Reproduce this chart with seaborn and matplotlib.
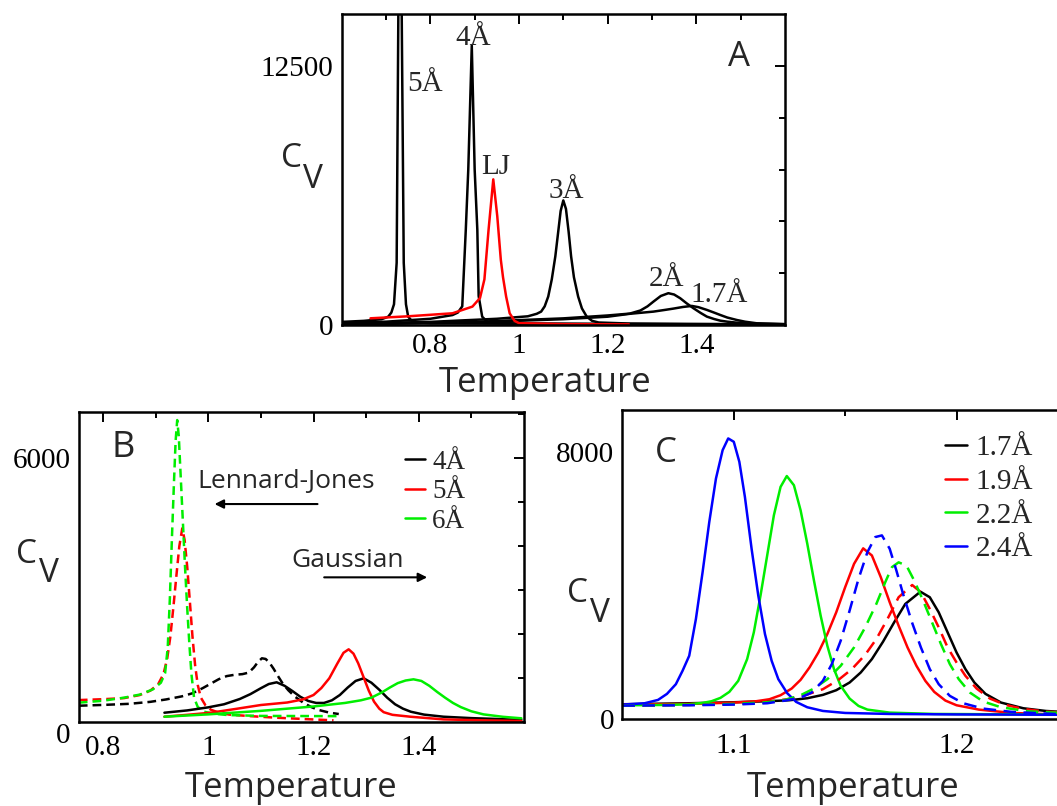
import matplotlib
matplotlib.use("Agg")
import matplotlib.pyplot as plt
import matplotlib.transforms as mtransforms
import numpy as np
import pandas as pd
import seaborn as sns

# ---------------- data ----------------
# Panel A
A_5_T = [0.60, 0.65, 0.69, 0.705, 0.712, 0.718, 0.724, 0.7278, 0.7316, 0.7354, 0.740, 0.745, 0.750, 0.760, 0.80, 1.00, 1.30, 1.60]
A_5_C = [150, 200, 280, 400, 600, 1000, 3000, 15000, 30000, 15000, 3000, 1000, 400, 150, 80, 60, 40, 25]
A_4_T = [0.60, 0.70, 0.80, 0.85, 0.862, 0.872, 0.880, 0.8856, 0.8935, 0.900, 0.906, 0.909, 0.917, 0.93, 1.00, 1.30, 1.60]
A_4_C = [100, 160, 300, 480, 600, 900, 4600, 7500, 13480, 7500, 4600, 1400, 400, 120, 70, 40, 25]
A_LJ_T = [0.665, 0.75, 0.85, 0.895, 0.912, 0.922, 0.9314, 0.942, 0.951, 0.959, 0.964, 0.971, 0.979, 0.99, 1.00, 1.10, 1.248]
A_LJ_C = [323, 420, 565, 888, 1300, 2200, 4600, 7025, 5250, 3150, 2300, 1372, 565, 200, 90, 40, 30]
A_3_T = [0.60, 0.80, 0.95, 1.02, 1.04, 1.05, 1.058, 1.066, 1.074, 1.082, 1.088, 1.094, 1.100, 1.106, 1.112, 1.1176, 1.124, 1.1335, 1.142, 1.153, 1.165, 1.18, 1.25, 1.60]
A_3_C = [60, 150, 300, 420, 540, 646, 900, 1372, 2200, 3310, 4400, 5500, 6008, 5600, 4500, 3310, 2300, 1372, 800, 400, 200, 120, 70, 30]
A_2_T = [0.60, 0.90, 1.10, 1.20, 1.25, 1.274, 1.29, 1.3035, 1.32, 1.337, 1.35, 1.3637, 1.378, 1.3937, 1.41, 1.424, 1.44, 1.454, 1.47, 1.4914, 1.55, 1.60]
A_2_C = [30, 150, 320, 460, 550, 700, 900, 1130, 1400, 1534, 1470, 1292, 1050, 808, 580, 404, 290, 210, 160, 113, 60, 40]
A_17_T = [0.60, 0.90, 1.10, 1.20, 1.25, 1.3035, 1.33, 1.3485, 1.37, 1.39, 1.405, 1.424, 1.44, 1.454, 1.47, 1.4914, 1.51, 1.537, 1.60]
A_17_C = [20, 130, 280, 400, 540, 646, 730, 791, 870, 920, 860, 727, 600, 485, 360, 242, 160, 81, 40]
A_curve_labels = ["5Å", "4Å", "LJ", "3Å", "2Å", "1.7Å"]
A_label_T = [0.748, 0.8558, 0.9156, 1.066, 1.292, 1.3862]
A_label_C = [11303, 13484, 7268, 6138, 1890, 1130]
A_xticks = [0.8, 1.0, 1.2, 1.4]
A_xticklabels = ["0.8", "1", "1.2", "1.4"]
A_yticks = [0, 12500]
A_yticklabels = ["0", "12500"]

# Panel B  (dashed = Lennard-Jones, solid = Gaussian)
B_LJ4_T = [0.754, 0.80, 0.85, 0.89, 0.92, 0.95, 0.97, 0.99, 1.005, 1.02, 1.035, 1.05, 1.065, 1.077, 1.087, 1.095, 1.102, 1.109, 1.116, 1.124, 1.132, 1.141, 1.152, 1.165, 1.18, 1.195, 1.21, 1.23, 1.248]
B_LJ4_C = [377, 395, 420, 465, 520, 590, 660, 780, 880, 980, 1050, 1080, 1095, 1130, 1250, 1380, 1455, 1440, 1360, 1220, 1060, 890, 730, 580, 450, 350, 280, 220, 188]
B_LJ5_T = [0.754, 0.80, 0.84, 0.87, 0.89, 0.905, 0.915, 0.922, 0.928, 0.934, 0.940, 0.945, 0.9506, 0.955, 0.960, 0.965, 0.970, 0.975, 0.980, 0.986, 0.995, 1.005, 1.02, 1.04, 1.08, 1.13, 1.19, 1.238]
B_LJ5_C = [505, 525, 550, 620, 720, 870, 1100, 1450, 1950, 2650, 3400, 4000, 4409, 4150, 3538, 2750, 1950, 1300, 850, 560, 380, 286, 220, 175, 140, 104, 70, 45]
B_LJ6_T = [0.754, 0.80, 0.84, 0.87, 0.895, 0.910, 0.918, 0.923, 0.927, 0.931, 0.935, 0.938, 0.941, 0.944, 0.948, 0.952, 0.956, 0.960, 0.964, 0.968, 0.973, 0.980, 0.992, 1.01, 1.037, 1.10, 1.2447]
B_LJ6_C = [446, 490, 560, 630, 750, 900, 1120, 1700, 2800, 4200, 5500, 6400, 6870, 6500, 5500, 4500, 3500, 2600, 1800, 1100, 560, 350, 241, 195, 165, 145, 140]
B_G4_T = [0.9167, 0.96, 1.00, 1.03, 1.06, 1.08, 1.10, 1.115, 1.130, 1.145, 1.16, 1.175, 1.19, 1.205, 1.22, 1.235, 1.25, 1.265, 1.28, 1.2954, 1.31, 1.325, 1.34, 1.355, 1.37, 1.385, 1.41, 1.447, 1.50, 1.55, 1.595]
B_G4_C = [218, 270, 340, 410, 530, 640, 775, 870, 909, 830, 710, 580, 485, 440, 440, 500, 620, 790, 940, 1000, 900, 740, 560, 410, 310, 240, 175, 127, 95, 75, 55]
B_G5_T = [0.9167, 0.96, 1.005, 1.05, 1.10, 1.15, 1.18, 1.20, 1.215, 1.23, 1.245, 1.257, 1.2668, 1.276, 1.285, 1.295, 1.305, 1.315, 1.325, 1.3333, 1.35, 1.384, 1.447, 1.52, 1.595]
B_G5_C = [127, 170, 218, 300, 393, 450, 520, 620, 780, 1000, 1330, 1580, 1659, 1560, 1340, 1030, 720, 470, 310, 230, 170, 127, 66, 45, 30]
B_G6_T = [0.9167, 1.0, 1.1, 1.2, 1.26, 1.29, 1.31, 1.33, 1.345, 1.36, 1.375, 1.39, 1.405, 1.42, 1.435, 1.45, 1.465, 1.48, 1.50, 1.523, 1.56, 1.595]
B_G6_C = [127, 180, 260, 360, 440, 500, 560, 680, 790, 890, 950, 977, 940, 830, 690, 560, 440, 345, 250, 180, 125, 91]
B_legend = ["4Å", "5Å", "6Å"]
B_xticks = [0.8, 1.0, 1.2, 1.4]
B_xticklabels = ["0.8", "1", "1.2", "1.4"]
B_yticks = [0, 6000]
B_yticklabels = ["0", "6000"]

# Panel C  (solid = Gaussian, dashed = Lennard-Jones)
C_G17_T = [1.050, 1.080, 1.100, 1.115, 1.125, 1.133, 1.140, 1.146, 1.152, 1.157, 1.162, 1.167, 1.172, 1.177, 1.1838, 1.188, 1.192, 1.196, 1.200, 1.204, 1.208, 1.213, 1.220, 1.230, 1.240, 1.250]
C_G17_C = [450, 480, 510, 540, 570, 630, 730, 870, 1100, 1400, 1800, 2320, 2900, 3450, 3816, 3650, 3200, 2600, 2000, 1500, 1100, 760, 500, 330, 250, 210]
C_G19_T = [1.050, 1.080, 1.100, 1.110, 1.116, 1.121, 1.126, 1.130, 1.134, 1.138, 1.142, 1.146, 1.150, 1.154, 1.1581, 1.162, 1.166, 1.170, 1.174, 1.178, 1.182, 1.186, 1.190, 1.195, 1.200, 1.210, 1.225, 1.250]
C_G19_C = [440, 460, 500, 540, 600, 720, 920, 1180, 1550, 2000, 2550, 3200, 3950, 4650, 5112, 4900, 4250, 3500, 2800, 2150, 1600, 1150, 820, 560, 420, 290, 190, 130]
C_G22_T = [1.050, 1.070, 1.080, 1.086, 1.090, 1.094, 1.098, 1.102, 1.106, 1.109, 1.112, 1.115, 1.118, 1.121, 1.1238, 1.127, 1.130, 1.133, 1.136, 1.139, 1.142, 1.145, 1.148, 1.152, 1.156, 1.160, 1.170, 1.190, 1.250]
C_G22_C = [420, 430, 450, 490, 540, 640, 820, 1150, 1800, 2600, 3700, 4900, 6100, 6950, 7275, 7000, 6250, 5250, 4150, 3100, 2200, 1500, 1000, 620, 400, 290, 200, 160, 140]
C_G24_T = [1.050, 1.060, 1.066, 1.070, 1.074, 1.077, 1.080, 1.083, 1.086, 1.089, 1.092, 1.095, 1.0975, 1.100, 1.1025, 1.105, 1.108, 1.111, 1.114, 1.117, 1.120, 1.124, 1.128, 1.133, 1.140, 1.150, 1.170, 1.200, 1.250]
C_G24_C = [440, 480, 580, 760, 1050, 1450, 1900, 3000, 4400, 5900, 7200, 8050, 8400, 8300, 7700, 6650, 5100, 3700, 2550, 1750, 1200, 780, 520, 360, 250, 190, 160, 145, 135]
C_L19_T = [1.050, 1.080, 1.100, 1.115, 1.125, 1.132, 1.140, 1.147, 1.153, 1.159, 1.164, 1.169, 1.174, 1.1801, 1.184, 1.188, 1.192, 1.196, 1.200, 1.204, 1.209, 1.215, 1.222, 1.230, 1.240, 1.250]
C_L19_C = [410, 430, 460, 520, 610, 720, 900, 1180, 1500, 1930, 2400, 3000, 3650, 4016, 3800, 3300, 2750, 2150, 1700, 1300, 920, 620, 430, 310, 230, 195]
C_L22_T = [1.050, 1.080, 1.100, 1.115, 1.123, 1.130, 1.136, 1.142, 1.148, 1.154, 1.159, 1.164, 1.168, 1.171, 1.174, 1.1775, 1.181, 1.185, 1.189, 1.193, 1.197, 1.201, 1.206, 1.212, 1.220, 1.232, 1.250]
C_L22_C = [410, 430, 460, 510, 580, 720, 920, 1200, 1600, 2150, 2750, 3450, 4100, 4550, 4694, 4600, 4150, 3550, 2900, 2250, 1650, 1200, 800, 530, 360, 240, 180]
C_L24_T = [1.050, 1.080, 1.100, 1.115, 1.123, 1.130, 1.135, 1.140, 1.144, 1.148, 1.152, 1.156, 1.160, 1.1635, 1.1665, 1.170, 1.173, 1.176, 1.180, 1.184, 1.188, 1.192, 1.197, 1.203, 1.212, 1.225, 1.250]
C_L24_C = [410, 420, 440, 480, 560, 650, 800, 1150, 1650, 2350, 3250, 4200, 5000, 5450, 5500, 5100, 4450, 3750, 2900, 2150, 1500, 1050, 700, 480, 320, 220, 140]
C_legend = ["1.7Å", "1.9Å", "2.2Å", "2.4Å"]
C_xticks = [1.1, 1.2]
C_xticklabels = ["1.1", "1.2"]
C_yticks = [0, 8000]
C_yticklabels = ["0", "8000"]

# ---------------- styling ----------------
sns.set_style("white")
plt.rcParams["font.family"] = ["Liberation Serif", "DejaVu Serif"]
SANS = ["Open Sans", "DejaVu Sans"]
BLACK, RED, GREEN, BLUE = "#000000", "#ff0000", "#00ee00", "#0000ff"
LW = 1.8

W, H = 1057, 806
fig = plt.figure(figsize=(W / 100, H / 100), dpi=100)


def px_rect(x0, y0, x1, y1):
    return [x0 / W, 1 - y1 / H, (x1 - x0) / W, (y1 - y0) / H]


def fxy(x, y):
    return x / W, 1 - y / H


axA = fig.add_axes(px_rect(341.7, 14, 784.9, 325))
axB = fig.add_axes(px_rect(78.8, 411.7, 524.0, 722.3))
axC = fig.add_axes(px_rect(622.4, 410, 1067.9, 719.3))


def draw(ax, T, C, color, ls="-", label=None):
    df = pd.DataFrame({"T": T, "Cv": C})
    sns.lineplot(data=df, x="T", y="Cv", ax=ax, color=color, lw=LW,
                 linestyle=ls, sort=False, estimator=None, label=label,
                 legend=False)


def style_axes(ax, xlim, ylim, xticks, xlabels, xminor, yticks, ylabels, yminor, xpad, ypad):
    ax.set_xlim(*xlim)
    ax.set_ylim(*ylim)
    ax.set_xticks(xticks, labels=xlabels)
    ax.set_yticks(yticks, labels=ylabels)
    ax.set_xticks(xminor, minor=True)
    ax.set_yticks(yminor, minor=True)
    ax.set_xlabel("")
    ax.set_ylabel("")
    ax.tick_params(which="both", direction="in", top=True, right=True,
                   width=1.4, color="black", labelsize=21, labelcolor="black")
    ax.tick_params(which="major", length=7)
    ax.tick_params(which="minor", length=4)
    ax.tick_params(axis="x", pad=xpad)
    ax.tick_params(axis="y", pad=ypad)
    for s in ax.spines.values():
        s.set_visible(True)
        s.set_linewidth(1.8)
        s.set_color("black")
    ax.set_facecolor("white")


# ---------------- Panel A ----------------
draw(axA, A_5_T, A_5_C, BLACK)
draw(axA, A_4_T, A_4_C, BLACK)
draw(axA, A_3_T, A_3_C, BLACK)
draw(axA, A_2_T, A_2_C, BLACK)
draw(axA, A_17_T, A_17_C, BLACK)
draw(axA, A_LJ_T, A_LJ_C, RED)
style_axes(axA, (0.6, 1.6), (0, 15000), A_xticks, A_xticklabels,
           np.arange(0.7, 1.6, 0.1), A_yticks, A_yticklabels,
           np.arange(2500, 15000, 2500), 6, 6)
for lab, t, c in zip(A_curve_labels, A_label_T, A_label_C):
    axA.text(t, c, lab, fontsize=21, ha="left", va="baseline")
axA.text(1.4727, 12515, "A", fontsize=25, family=SANS, ha="left", va="baseline")

# ---------------- Panel B ----------------
dashB = (0, (3.5, 2.0))
draw(axB, B_LJ4_T, B_LJ4_C, BLACK, dashB)
draw(axB, B_LJ5_T, B_LJ5_C, RED, dashB)
draw(axB, B_LJ6_T, B_LJ6_C, GREEN, dashB)
draw(axB, B_G4_T, B_G4_C, BLACK, "-", B_legend[0])
draw(axB, B_G5_T, B_G5_C, RED, "-", B_legend[1])
draw(axB, B_G6_T, B_G6_C, GREEN, "-", B_legend[2])
style_axes(axB, (0.754, 1.6), (0, 7060), B_xticks, B_xticklabels,
           np.arange(0.8, 1.6, 0.1), B_yticks, B_yticklabels,
           np.arange(1000, 7001, 1000), 9, 6)
# the "0" label of panel B sits a little below the axis line in the original
t0 = axB.yaxis.get_major_ticks()[0]
t0.label1.set_transform(t0.label1.get_transform()
                        + mtransforms.ScaledTranslation(0, -8 / 72, fig.dpi_scale_trans))
hB, lB = axB.get_legend_handles_labels()
axB.legend(hB, lB, loc="upper left", bbox_to_anchor=(0.733, 0.877),
           frameon=False, fontsize=19.5, handlelength=0.75,
           handletextpad=0.25, labelspacing=0.16, borderpad=0,
           borderaxespad=0)
axB.text(0.8163, 6036, "B", fontsize=26, family=SANS, ha="left", va="baseline")
axB.text(0.980, 5318, "Lennard-Jones", fontsize=19, family=SANS, ha="left", va="baseline")
axB.text(1.157, 3536, "Gaussian", fontsize=19, family=SANS, ha="left", va="baseline")
axB.annotate("", xy=(1.012, 4961), xytext=(1.2076, 4961),
             arrowprops=dict(arrowstyle="-|>", color="black", lw=1.5,
                             mutation_scale=13, shrinkA=0, shrinkB=0))
axB.annotate("", xy=(1.416, 3295), xytext=(1.2203, 3295),
             arrowprops=dict(arrowstyle="-|>", color="black", lw=1.5,
                             mutation_scale=13, shrinkA=0, shrinkB=0))

# ---------------- Panel C ----------------
dashC = (0, (5.0, 3.0))
draw(axC, C_G17_T, C_G17_C, BLACK, "-", C_legend[0])
draw(axC, C_G19_T, C_G19_C, RED, "-", C_legend[1])
draw(axC, C_G22_T, C_G22_C, GREEN, "-", C_legend[2])
draw(axC, C_G24_T, C_G24_C, BLUE, "-", C_legend[3])
draw(axC, C_L19_T, C_L19_C, RED, dashC)
draw(axC, C_L22_T, C_L22_C, GREEN, dashC)
draw(axC, C_L24_T, C_L24_C, BLUE, dashC)
style_axes(axC, (1.05, 1.25), (0, 9250), C_xticks, C_xticklabels,
           [1.15, 1.25], C_yticks, C_yticklabels,
           np.arange(1000, 9001, 1000), 10, 6)
hC, lC = axC.get_legend_handles_labels()
axC.legend(hC, lC, loc="upper left", bbox_to_anchor=(0.724, 0.92),
           frameon=False, fontsize=21, handlelength=0.75,
           handletextpad=0.3, labelspacing=0.25, borderpad=0,
           borderaxespad=0)
axC.text(1.0647, 7702, "C", fontsize=25, family=SANS, ha="left", va="baseline")

# ---------------- axis titles (C with subscript V, Temperature) ----------------
for (cx, cy, vx, vy) in [(291.7, 166.7, 313.3, 188.3),
                         (26.2, 563.3, 49.0, 581.7),
                         (577.9, 601.7, 599.7, 621.7)]:
    fig.text(*fxy(cx, cy), "C", fontsize=24, family=SANS, ha="center", va="baseline")
    fig.text(*fxy(vx, vy), "V", fontsize=24, family=SANS, ha="center", va="baseline")

for (tx, ty) in [(545.3, 391.7), (290.7, 797.0), (853.5, 797.0)]:
    fig.text(*fxy(tx, ty), "Temperature", fontsize=25, family=SANS,
             ha="center", va="baseline")

fig.savefig("out.png", dpi=100, facecolor="white")
